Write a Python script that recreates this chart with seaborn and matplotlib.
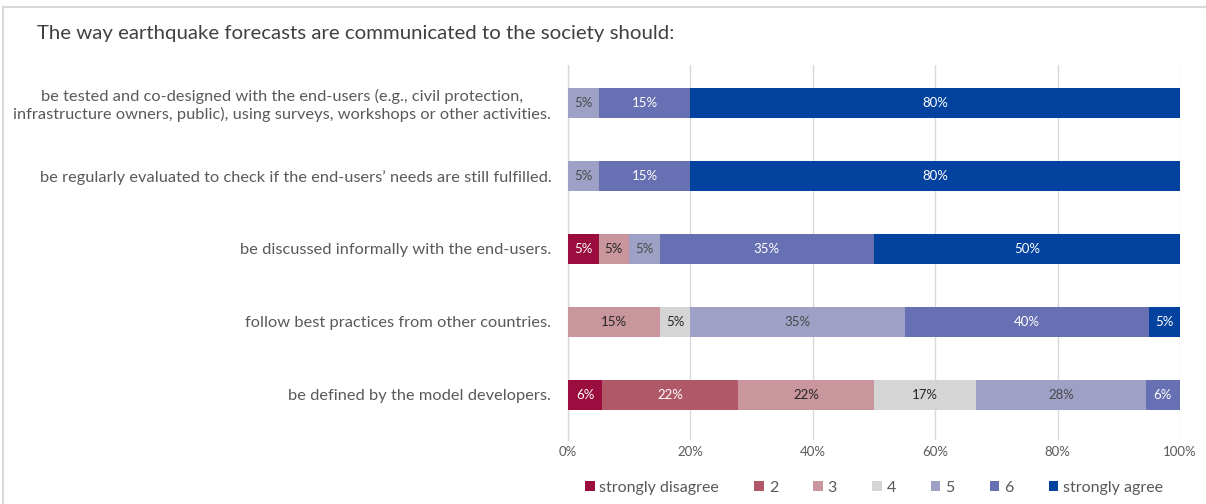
import numpy as np
import pandas as pd
import matplotlib
matplotlib.use("Agg")
import matplotlib.pyplot as plt
from matplotlib.lines import Line2D
from matplotlib.patches import Patch
import seaborn as sns

# Survey statements (one bar each)
statements = [
    "be tested and co-designed with the end-users (e.g., civil protection,\n"
    "infrastructure owners, public), using surveys, workshops or other activities.",
    "be regularly evaluated to check if the end-users\u2019 needs are still fulfilled.",
    "be discussed informally with the end-users.",
    "follow best practices from other countries.",
    "be defined by the model developers.",
]

# Answer scale, from disagreement to agreement
levels = ["strongly disagree", "2", "3", "4", "5", "6", "strongly agree"]

# Share of answers (%) per level, one list per level, in statement order
strongly_disagree = [0, 0, 5, 0, 5.6]
level_2 = [0, 0, 0, 0, 22.2]
level_3 = [0, 0, 5, 15, 22.2]
level_4 = [0, 0, 0, 5, 16.7]
level_5 = [5, 5, 5, 35, 27.7]
level_6 = [15, 15, 35, 40, 5.6]
strongly_agree = [80, 80, 50, 5, 0]

colors = ["#9B0D3E", "#B05868", "#C9969D", "#D5D5D5", "#9EA0C5", "#6670B2", "#0442A0"]
label_colors = ["white", "white", "#262626", "#262626", "#4a4a4a", "white", "white"]

sns.set_theme(style="white")
plt.rcParams["font.family"] = ["Lato", "DejaVu Sans"]

shares = np.array([strongly_disagree, level_2, level_3, level_4,
                   level_5, level_6, strongly_agree])  # levels x statements
cum = np.cumsum(shares, axis=0)

fig = plt.figure(figsize=(12.06, 5.04), dpi=100)
ax = fig.add_axes([568 / 1206, 1 - 440 / 504, 612 / 1206, 375 / 504])

# Stacked bars: draw running totals from the last level backwards
for k in range(len(levels) - 1, -1, -1):
    df = pd.DataFrame({"statement": statements, "total": cum[k]})
    sns.barplot(data=df, x="total", y="statement", color=colors[k],
                orient="h", width=0.41, saturation=1, ax=ax,
                edgecolor="none", linewidth=0, zorder=3)

# Segment value labels
for k in range(len(levels)):
    for i in range(len(statements)):
        v = shares[k, i]
        if v <= 0:
            continue
        left = cum[k, i] - v
        ax.text(left + v / 2, i, f"{v:.0f}%", ha="center", va="center",
                fontsize=9.5, color=label_colors[k], zorder=4)

ax.set_xlim(0, 100)
ax.set_ylim(4.62, -0.52)
ax.set_xticks(np.arange(0, 101, 20))
ax.set_xticklabels([f"{t}%" for t in range(0, 101, 20)])
ax.set_xlabel("")
ax.set_ylabel("")
ax.grid(axis="x", color="#D9D9D9", linewidth=1, zorder=0)
ax.grid(axis="y", visible=False)
for side in ["top", "right", "bottom"]:
    ax.spines[side].set_visible(False)
ax.spines["left"].set_color("#D9D9D9")
ax.spines["left"].set_linewidth(1)
ax.tick_params(axis="x", length=0, pad=4, labelsize=9.5, labelcolor="#595959")
ax.tick_params(axis="y", length=0, pad=12, labelsize=11.8, labelcolor="#595959")
for lab in ax.get_yticklabels():
    lab.set_multialignment("center")

# Legend below the plot area
handles = [Patch(facecolor=c, edgecolor="none") for c in colors]
ax.legend(handles, levels, loc="center", bbox_to_anchor=(0.5, -0.128),
          ncol=7, frameon=False, fontsize=11.5, handlelength=0.6,
          handleheight=0.6, handletextpad=0.3, columnspacing=2.2,
          labelcolor="#595959")

# Title
fig.text(37 / 1206, 1 - 33 / 504, "The way earthquake forecasts are communicated to the society should:",
         fontsize=14.7, color="#404040", ha="left", va="center")

# Light frame around the chart area
fig.add_artist(Line2D([3 / 1206, 1], [1 - 7 / 504, 1 - 7 / 504],
                      transform=fig.transFigure, color="#D9D9D9", linewidth=1.5))
fig.add_artist(Line2D([3 / 1206, 3 / 1206], [0, 1 - 7 / 504],
                      transform=fig.transFigure, color="#D9D9D9", linewidth=1.5))

fig.savefig("out.png", dpi=100, facecolor="white")
